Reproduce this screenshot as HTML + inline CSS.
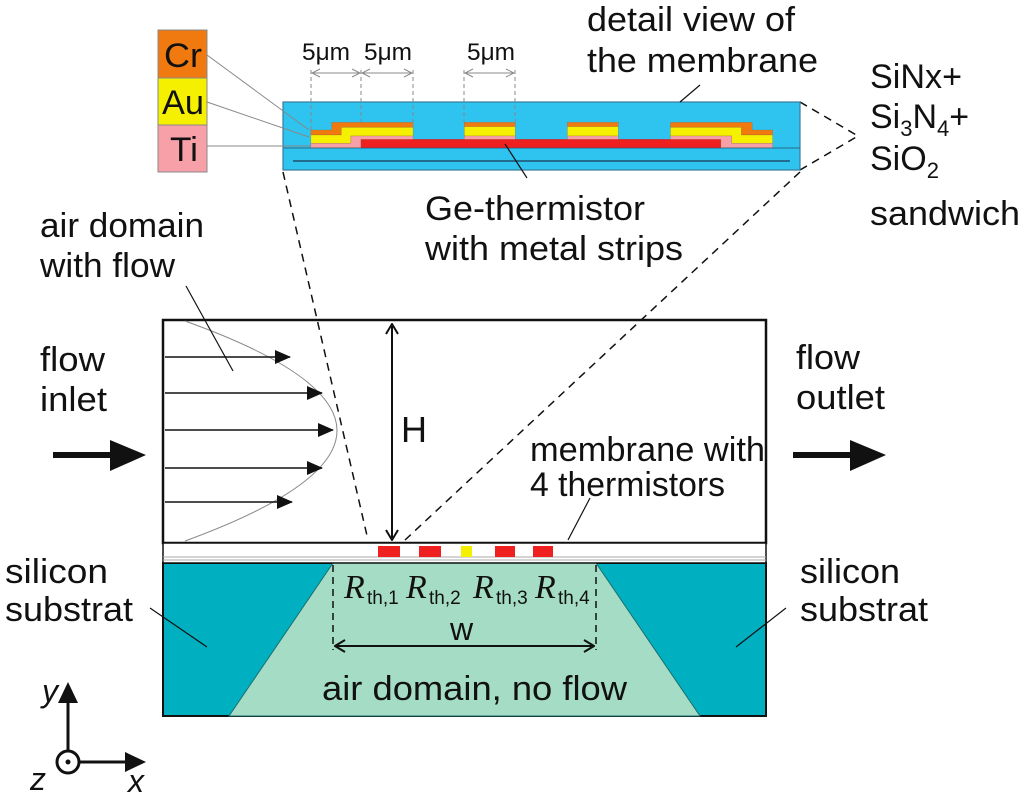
<!DOCTYPE html>
<html><head><meta charset="utf-8"><style>
html,body{margin:0;padding:0;background:#fff;}
svg{display:block;}
text{font-family:"Liberation Sans",sans-serif;fill:#111;}
</style></head><body>
<svg width="1024" height="796" viewBox="0 0 1024 796" xmlns="http://www.w3.org/2000/svg">
<defs>
<marker id="ah" markerWidth="16" markerHeight="14" refX="15" refY="7" orient="auto" markerUnits="userSpaceOnUse"><path d="M0,0 L16,7 L0,14 z" fill="#111"/></marker>
<marker id="oa" markerWidth="12" markerHeight="14" refX="11" refY="7" orient="auto-start-reverse" markerUnits="userSpaceOnUse"><path d="M1,1 L11,7 L1,13" fill="none" stroke="#111" stroke-width="2"/></marker>
<marker id="ta" markerWidth="10" markerHeight="10" refX="9" refY="5" orient="auto-start-reverse" markerUnits="userSpaceOnUse"><path d="M1,1 L9,5 L1,9" fill="none" stroke="#888" stroke-width="1"/></marker>
</defs>

<rect x="163" y="563" width="603" height="153" fill="#00b0c0" stroke="#111" stroke-width="2"/>
<polygon points="333,563 596,563 700,716 229,716" fill="#a4dcc6" stroke="#1a6e6e" stroke-width="1"/>
<rect x="163" y="320" width="603" height="223" fill="#fff" stroke="#111" stroke-width="2.5"/>
<rect x="163" y="543" width="603" height="20" fill="#fff" stroke="#111" stroke-width="1.5"/>
<line x1="163" y1="557" x2="766" y2="557" stroke="#aaa" stroke-width="1"/>
<line x1="163" y1="560" x2="766" y2="560" stroke="#aaa" stroke-width="1"/>
<rect x="378" y="546" width="22" height="11" fill="#ee2020"/>
<rect x="419" y="546" width="22" height="11" fill="#ee2020"/>
<rect x="461" y="546" width="11" height="11" fill="#f5f000"/>
<rect x="495" y="546" width="20" height="11" fill="#ee2020"/>
<rect x="533" y="546" width="20" height="11" fill="#ee2020"/>

<path d="M185,321 Q489,430 185,541" fill="none" stroke="#888" stroke-width="1"/>
<g stroke="#111" stroke-width="1.5" marker-end="url(#ah)">
<line x1="165" y1="357" x2="290" y2="357"/>
<line x1="165" y1="393" x2="322" y2="393"/>
<line x1="165" y1="430" x2="333" y2="430"/>
<line x1="165" y1="468" x2="322" y2="468"/>
<line x1="165" y1="502" x2="292" y2="502"/>
</g>
<line x1="186" y1="286" x2="233" y2="371" stroke="#111" stroke-width="1.2"/>
<line x1="392" y1="324" x2="392" y2="540" stroke="#111" stroke-width="2" marker-start="url(#oa)" marker-end="url(#oa)"/>
<text x="401" y="442" font-size="36">H</text>
<line x1="53" y1="455" x2="120" y2="455" stroke="#111" stroke-width="6"/>
<polygon points="110,440 146,455 110,471" fill="#111"/>
<line x1="793" y1="455" x2="860" y2="455" stroke="#111" stroke-width="6"/>
<polygon points="850,440 886,455 850,471" fill="#111"/>

<g stroke="#111" stroke-width="1.5" stroke-dasharray="7,5">
<line x1="333" y1="565" x2="333" y2="650"/>
<line x1="596" y1="565" x2="596" y2="650"/>
</g>
<line x1="335" y1="646" x2="594" y2="646" stroke="#111" stroke-width="2" marker-start="url(#oa)" marker-end="url(#oa)"/>
<text x="450" y="640" font-size="32">w</text>
<g font-style="italic" font-size="34">
<text x="344" y="598" style="font-family:'Liberation Serif',serif">R</text>
<text x="406" y="598" style="font-family:'Liberation Serif',serif">R</text>
<text x="473" y="598" style="font-family:'Liberation Serif',serif">R</text>
<text x="535" y="598" style="font-family:'Liberation Serif',serif">R</text>
</g>
<g font-size="19">
<text x="367" y="604">th,1</text><text x="429" y="604">th,2</text>
<text x="496" y="604">th,3</text><text x="558" y="604">th,4</text>
</g>
<text x="322" y="700" font-size="34" textLength="305" lengthAdjust="spacingAndGlyphs">air domain, no flow</text>

<line x1="150" y1="608" x2="207" y2="647" stroke="#111" stroke-width="1.2"/>
<line x1="786" y1="608" x2="736" y2="647" stroke="#111" stroke-width="1.2"/>
<line x1="590" y1="498" x2="568" y2="540" stroke="#111" stroke-width="1.2"/>

<g stroke="#111" stroke-width="1.5" stroke-dasharray="8,6" fill="none">
<line x1="283" y1="172" x2="368" y2="540"/>
<line x1="800" y1="172" x2="405" y2="540"/>
<line x1="800" y1="102" x2="858" y2="136"/>
<line x1="800" y1="170" x2="858" y2="136"/>
</g>

<rect x="283" y="102" width="517" height="68" fill="#2ec4ef" stroke="#3a7a9a" stroke-width="1.2"/>
<line x1="283" y1="148" x2="800" y2="148" stroke="#2a6a8a" stroke-width="1"/>
<line x1="293" y1="161" x2="790" y2="161" stroke="#1f4f6f" stroke-width="1.5"/>
<g transform="translate(150 20) scale(0.4348 0.3333)" stroke="#8a5a3a" stroke-width="0.6">
<rect x="485" y="358" width="828" height="25" fill="#ee2020" stroke="#a01010"/>
<polygon points="370,330 418,330 418,307 605,307 605,322 440,322 440,345 370,345" fill="#f07a10"/>
<polygon points="370,345 440,345 440,322 605,322 605,348 462,348 462,370 370,370" fill="#f5f000"/>
<polygon points="370,370 462,370 462,348 605,348 605,358 485,358 485,383 370,383" fill="#f8a0a8"/>
<rect x="723" y="307" width="117" height="13" fill="#f07a10"/><rect x="723" y="320" width="117" height="28" fill="#f5f000"/><rect x="723" y="348" width="117" height="10" fill="#f8a0a8"/>
<rect x="960" y="307" width="117" height="13" fill="#f07a10"/><rect x="960" y="320" width="117" height="28" fill="#f5f000"/><rect x="960" y="348" width="117" height="10" fill="#f8a0a8"/>
<polygon points="1197,307 1385,307 1385,330 1432,330 1432,345 1360,345 1360,322 1197,322" fill="#f07a10"/>
<polygon points="1197,322 1360,322 1360,345 1432,345 1432,370 1338,370 1338,348 1197,348" fill="#f5f000"/>
<polygon points="1197,348 1338,348 1338,370 1432,370 1432,383 1313,383 1313,358 1197,358" fill="#f8a0a8"/>
</g>
<g stroke="#888" stroke-width="1" stroke-dasharray="4,3">
<line x1="311" y1="70" x2="311" y2="131"/>
<line x1="361" y1="70" x2="361" y2="123"/>
<line x1="413" y1="70" x2="413" y2="122"/>
<line x1="464" y1="70" x2="464" y2="122"/>
<line x1="515" y1="70" x2="515" y2="122"/>
</g>
<g stroke="#888" stroke-width="1">
<line x1="312" y1="73" x2="360" y2="73" marker-start="url(#ta)" marker-end="url(#ta)"/>
<line x1="362" y1="73" x2="412" y2="73" marker-start="url(#ta)" marker-end="url(#ta)"/>
<line x1="465" y1="73" x2="514" y2="73" marker-start="url(#ta)" marker-end="url(#ta)"/>
</g>
<g font-size="24"><text x="302" y="60" textLength="48" lengthAdjust="spacingAndGlyphs">5μm</text><text x="364" y="60" textLength="48" lengthAdjust="spacingAndGlyphs">5μm</text><text x="467" y="60" textLength="48" lengthAdjust="spacingAndGlyphs">5μm</text></g>
<rect x="158" y="30" width="49" height="48" fill="#f07a10" stroke="#888"/>
<rect x="158" y="78" width="49" height="47" fill="#f5f000" stroke="#888"/>
<rect x="158" y="125" width="49" height="47" fill="#f8a0a8" stroke="#888"/>
<g font-size="34"><text x="164" y="67" textLength="38" lengthAdjust="spacingAndGlyphs">Cr</text><text x="162" y="114" textLength="42" lengthAdjust="spacingAndGlyphs">Au</text><text x="170" y="161" textLength="28" lengthAdjust="spacingAndGlyphs">Ti</text></g>
<g stroke="#888" stroke-width="1">
<line x1="207" y1="55" x2="309" y2="130"/>
<line x1="207" y1="102" x2="309" y2="137"/>
<line x1="207" y1="146" x2="311" y2="146"/>
</g>
<line x1="700" y1="85" x2="680" y2="102" stroke="#111" stroke-width="1.2"/>
<line x1="505" y1="144" x2="527" y2="178" stroke="#111" stroke-width="1.2"/>

<g font-size="34">
<text x="587" y="31" textLength="208" lengthAdjust="spacingAndGlyphs">detail view of</text>
<text x="587" y="72" textLength="231" lengthAdjust="spacingAndGlyphs">the membrane</text>
<text x="870" y="88" textLength="92" lengthAdjust="spacingAndGlyphs">SiNx+</text>
<text x="870" y="128">Si<tspan font-size="22" dy="8">3</tspan><tspan dy="-8">N</tspan><tspan font-size="22" dy="8">4</tspan><tspan dy="-8">+</tspan></text>
<text x="870" y="170">SiO<tspan font-size="22" dy="8">2</tspan></text>
<text x="870" y="225" textLength="150" lengthAdjust="spacingAndGlyphs">sandwich</text>
<text x="425" y="220" textLength="220" lengthAdjust="spacingAndGlyphs">Ge-thermistor</text>
<text x="425" y="260" textLength="258" lengthAdjust="spacingAndGlyphs">with metal strips</text>
<text x="40" y="237" textLength="164" lengthAdjust="spacingAndGlyphs">air domain</text>
<text x="40" y="277" textLength="135" lengthAdjust="spacingAndGlyphs">with flow</text>
<text x="40" y="371" textLength="65" lengthAdjust="spacingAndGlyphs">flow</text>
<text x="40" y="411" textLength="67" lengthAdjust="spacingAndGlyphs">inlet</text>
<text x="796" y="369" textLength="64" lengthAdjust="spacingAndGlyphs">flow</text>
<text x="796" y="409" textLength="89" lengthAdjust="spacingAndGlyphs">outlet</text>
<text x="530" y="461" textLength="235" lengthAdjust="spacingAndGlyphs">membrane with</text>
<text x="530" y="496" textLength="195" lengthAdjust="spacingAndGlyphs">4 thermistors</text>
<text x="5" y="583" textLength="103" lengthAdjust="spacingAndGlyphs">silicon</text>
<text x="5" y="621" textLength="128" lengthAdjust="spacingAndGlyphs">substrat</text>
<text x="800" y="583" textLength="100" lengthAdjust="spacingAndGlyphs">silicon</text>
<text x="800" y="621" textLength="128" lengthAdjust="spacingAndGlyphs">substrat</text>
</g>
<line x1="68" y1="752" x2="68" y2="700" stroke="#111" stroke-width="3"/>
<polygon points="58,703 68,682 78,703" fill="#111"/>
<line x1="79" y1="762" x2="128" y2="762" stroke="#111" stroke-width="3"/>
<polygon points="125,752 146,762 125,772" fill="#111"/>
<circle cx="68" cy="762" r="11" fill="#fff" stroke="#111" stroke-width="3"/>
<circle cx="68" cy="762" r="2.5" fill="#111"/>
<g font-size="32" font-style="italic"><text x="42" y="702">y</text><text x="30" y="790">z</text><text x="128" y="792">x</text></g>
</svg>
</body></html>
